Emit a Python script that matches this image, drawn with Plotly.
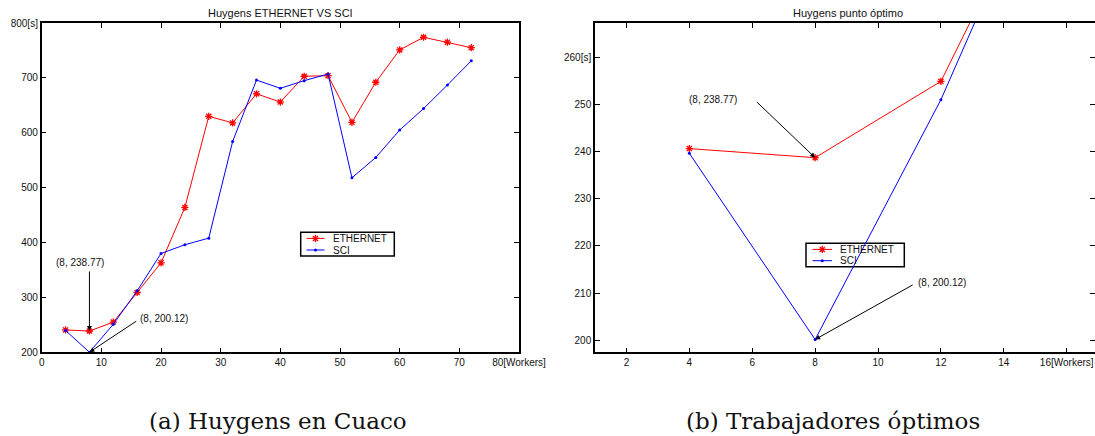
import plotly.graph_objects as go

# Worker counts and run times in seconds
workers = [4, 8, 12, 16, 20, 24, 28, 32, 36, 40, 44, 48, 52, 56, 60, 64, 68, 72]
ethernet = [240.7, 238.77, 255.0, 309, 363, 464, 630, 618, 671, 656, 703, 704,
            619, 692, 751, 774, 765, 755]
sci = [239.7, 200.12, 251.1, 312, 380, 396, 408, 584, 696, 681, 695, 707,
       518, 555, 605, 644, 687, 731]
series_names = ["ETHERNET", "SCI"]

left_x_ticks = [0, 10, 20, 30, 40, 50, 60, 70, 80]
left_x_labels = ["0", "10", "20", "30", "40", "50", "60", "70", "80[Workers]"]
left_y_ticks = [200, 300, 400, 500, 600, 700, 800]
left_y_labels = ["200", "300", "400", "500", "600", "700", "800[s]"]

right_x_ticks = [2, 4, 6, 8, 10, 12, 14, 16]
right_x_labels = ["2", "4", "6", "8", "10", "12", "14", "16[Workers]"]
right_y_ticks = [200, 210, 220, 230, 240, 250, 260]
right_y_labels = ["200", "210", "220", "230", "240", "250", "260[s]"]

W, H = 1095, 436
RED = "#ff0000"
BLUE = "#0000ff"
SANS = "Liberation Sans, Arial, sans-serif"
TICK_FONT = dict(family=SANS, size=10, color="#111")
STAR = dict(symbol="asterisk-open", size=6, color=RED, line=dict(color=RED, width=1.3))
DOT = dict(symbol="circle", size=3, color=BLUE)

fig = go.Figure()

for xa, ya in [("x", "y"), ("x2", "y2")]:
    fig.add_trace(go.Scatter(
        x=workers, y=ethernet, name=series_names[0], mode="lines+markers",
        line=dict(color=RED, width=1), marker=STAR,
        xaxis=xa, yaxis=ya, showlegend=False, cliponaxis=True))
    fig.add_trace(go.Scatter(
        x=workers, y=sci, name=series_names[1], mode="lines+markers",
        line=dict(color=BLUE, width=1), marker=DOT,
        xaxis=xa, yaxis=ya, showlegend=False, cliponaxis=True))

axis_common = dict(
    showgrid=False, zeroline=False, showline=True, linecolor="black",
    linewidth=1.5, mirror="ticks", ticks="inside", ticklen=5,
    tickcolor="black", tickwidth=1, tickfont=TICK_FONT, fixedrange=True,
    automargin=False,
)

fig.update_layout(
    width=W, height=H,
    margin=dict(l=0, r=0, t=0, b=0, autoexpand=False),
    paper_bgcolor="white", plot_bgcolor="rgba(0,0,0,0)",
    showlegend=False,
    xaxis=dict(domain=[41.7 / W, 519 / W], range=[0, 80], tickvals=left_x_ticks,
               ticktext=left_x_labels, anchor="y", **axis_common),
    yaxis=dict(domain=[1 - 352.3 / H, 1 - 23 / H], range=[200, 800], tickvals=left_y_ticks,
               ticktext=left_y_labels, anchor="x", **axis_common),
    xaxis2=dict(domain=[595 / W, 1.0], range=[1, 16.9], tickvals=right_x_ticks,
                ticktext=right_x_labels, anchor="y2", **axis_common),
    yaxis2=dict(domain=[1 - 352.3 / H, 1 - 23 / H], range=[197.4, 267.4],
                tickvals=right_y_ticks, ticktext=right_y_labels, anchor="x2", **axis_common),
    # full-page overlay in pixel units, used for the legend glyphs
    xaxis3=dict(domain=[0, 1], range=[0, W], visible=False, fixedrange=True, anchor="y3"),
    yaxis3=dict(domain=[0, 1], range=[H, 0], visible=False, fixedrange=True, anchor="x3"),
)

shapes = []
annotations = []


def add_legend(x0, y0, x1, y1, rows, line_x0, line_x1, text_x):
    shapes.append(dict(type="rect", xref="paper", yref="paper",
                       x0=x0 / W, x1=x1 / W, y0=1 - y0 / H, y1=1 - y1 / H,
                       line=dict(color="black", width=1.5), fillcolor="white", layer="below"))
    for (ry, color, marker, label) in rows:
        fig.add_trace(go.Scatter(x=[line_x0, line_x1], y=[ry, ry], mode="lines",
                                 line=dict(color=color, width=1), xaxis="x3", yaxis="y3",
                                 showlegend=False, hoverinfo="skip"))
        fig.add_trace(go.Scatter(x=[(line_x0 + line_x1) / 2], y=[ry], mode="markers",
                                 marker=marker, xaxis="x3", yaxis="y3",
                                 showlegend=False, hoverinfo="skip"))
        annotations.append(dict(text=label, x=text_x / W, y=1 - ry / H, xref="paper",
                                yref="paper", xanchor="left", yanchor="middle",
                                showarrow=False, font=dict(family=SANS, size=10, color="#111")))


add_legend(300.7, 232.3, 394.3, 256,
           [(238.4, RED, STAR, series_names[0]), (250.0, BLUE, DOT, series_names[1])],
           306.5, 324.5, 330.5)
add_legend(806, 243.3, 904.3, 266.7,
           [(249.4, RED, STAR, series_names[0]), (260.7, BLUE, DOT, series_names[1])],
           812.5, 832, 838)

title_font = dict(family=SANS, size=11, color="#111")
caption_font = dict(family="DejaVu Serif, Liberation Serif, serif", size=23, color="#111")

annotations += [
    # panel titles
    dict(text="Huygens ETHERNET VS SCI", x=280.5 / W, y=1 - 12.5 / H, xref="paper",
         yref="paper", showarrow=False, font=title_font, xanchor="center", yanchor="middle"),
    dict(text="Huygens punto óptimo", x=848 / W, y=1 - 12.5 / H, xref="paper",
         yref="paper", showarrow=False, font=title_font, xanchor="center", yanchor="middle"),
    # captions
    dict(text="(a) Huygens en Cuaco", x=147 / W, y=1 - 421 / H, xref="paper",
         yref="paper", showarrow=False, font=caption_font, xanchor="left", yanchor="middle"),
    dict(text="(b) Trabajadores óptimos", x=684 / W, y=1 - 421 / H, xref="paper",
         yref="paper", showarrow=False, font=caption_font, xanchor="left", yanchor="middle"),
]

label_font = dict(family=SANS, size=10, color="#111")
arrow_style = dict(showarrow=True, arrowhead=2, arrowsize=1, arrowwidth=1,
                   arrowcolor="black", text="")

# left panel callouts
annotations += [
    dict(text=f"({workers[1]}, {ethernet[1]})", x=6.4, y=363, xref="x", yref="y",
         showarrow=False, font=label_font),
    dict(x=workers[1], y=ethernet[1], ax=workers[1], ay=350, xref="x", yref="y",
         axref="x", ayref="y", **arrow_style),
    dict(text=f"({workers[1]}, {sci[1]})", x=16.1, y=260.7, xref="x", yref="y",
         showarrow=False, font=label_font, xanchor="left"),
    dict(x=workers[1], y=sci[1], ax=16.1, ay=258.5, xref="x", yref="y",
         axref="x", ayref="y", **arrow_style),
]

# right panel callouts
annotations += [
    dict(text=f"({workers[1]}, {ethernet[1]})", x=4.74, y=251.1, xref="x2", yref="y2",
         showarrow=False, font=label_font),
    dict(x=workers[1], y=ethernet[1], ax=6.1, ay=250.9, xref="x2", yref="y2",
         axref="x2", ayref="y2", **arrow_style),
    dict(text=f"({workers[1]}, {sci[1]})", x=11.2, y=212.3, xref="x2", yref="y2",
         showarrow=False, font=label_font, xanchor="left"),
    dict(x=workers[1], y=sci[1], ax=11.15, ay=211.9, xref="x2", yref="y2",
         axref="x2", ayref="y2", **arrow_style),
]

fig.update_layout(annotations=annotations, shapes=shapes)

fig.write_html("out.html")
